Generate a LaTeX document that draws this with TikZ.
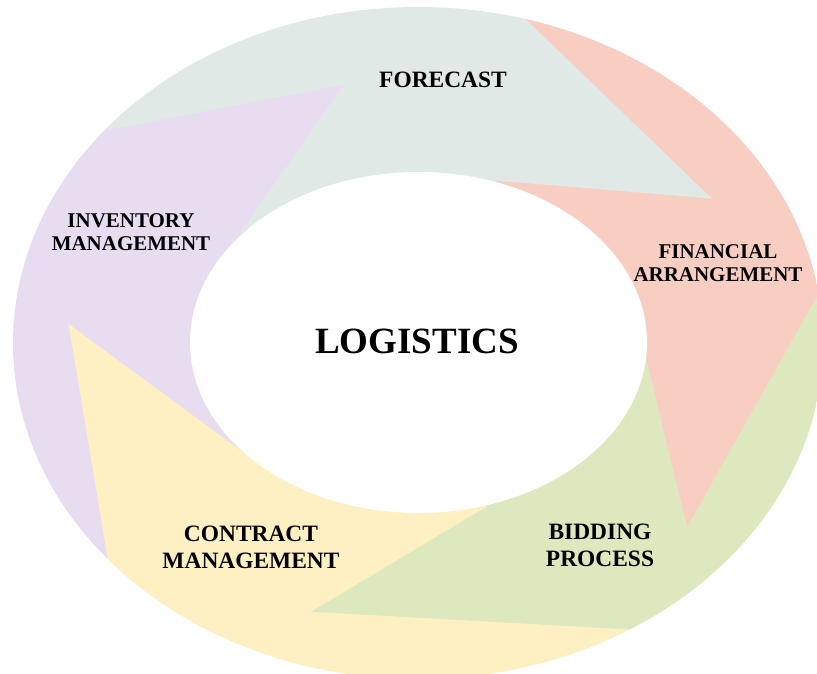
\documentclass[tikz,border=0pt]{standalone}
\usepackage{fontspec}
\setmainfont{Liberation Serif}
\usetikzlibrary{calc,positioning}
\usepackage{color}

\definecolor{forecol}{HTML}{E0E9E5}
\definecolor{fincol}{HTML}{F8CEC3}
\definecolor{bidcol}{HTML}{DEE8BE}
\definecolor{concol}{HTML}{FEF0C2}
\definecolor{invcol}{HTML}{E8DCF0}

\tikzset{
  lbl/.style={align=center,inner sep=0pt,font=\bfseries\fontsize{17.9}{19.6}\selectfont},
  lblbig/.style={lbl,font=\bfseries\fontsize{20}{23}\selectfont},
  title/.style={inner sep=0pt,font=\bfseries\fontsize{31.6}{34}\selectfont}
}

\begin{document}
\begin{tikzpicture}[x=0.03cm,y=-0.03cm]

\useasboundingbox (0,0) rectangle (817,673);

\coordinate (c) at (418,343);

% outer point / arrow tip / inner point of each border
\def\bounds{1/{110,130}/{343,85}/{240,232},2/{525,18}/{713,199}/{497,181},3/{818,295}/{687,528}/{646,360},4/{633,630}/{310,612}/{487,506},5/{107,557}/{68,323}/{260,464}}
\foreach \i / \p / \t / \n in \bounds {
  \coordinate (p\i) at (\p);
  \coordinate (t\i) at (\t);
  \coordinate (i\i) at (\n);
  \coordinate (f\i) at ($(c)!3!(p\i)$);
}

\begin{scope}
\clip (c) ellipse [x radius=405, y radius=336];
\foreach \i / \j / \col in {1/2/forecol,2/3/fincol,3/4/bidcol,4/5/concol,5/1/invcol}
  \fill[\col,draw=\col,line width=0.4pt] (c) -- (i\i) -- (t\i) -- (p\i) -- (f\i) -- (f\j)
    -- (p\j) -- (t\j) -- (i\j) -- cycle;
\end{scope}

\fill[white] (418.5,342.5) ellipse [x radius=228.5, y radius=170.5];

\node[title] (log) at (417,341) {LOGISTICS};
\node[lblbig] (fore) at (443,80) {FORECAST};
\node[lbl] (fin) at (718,263) {FINANCIAL\\ARRANGEMENT};
\node[lblbig] (bid) at (600,545) {BIDDING\\PROCESS};
\node[lblbig] (con) at (251,547) {CONTRACT\\MANAGEMENT};
\node[lbl] (inv) at (131,232) {INVENTORY\\MANAGEMENT};

\end{tikzpicture}
\end{document}
